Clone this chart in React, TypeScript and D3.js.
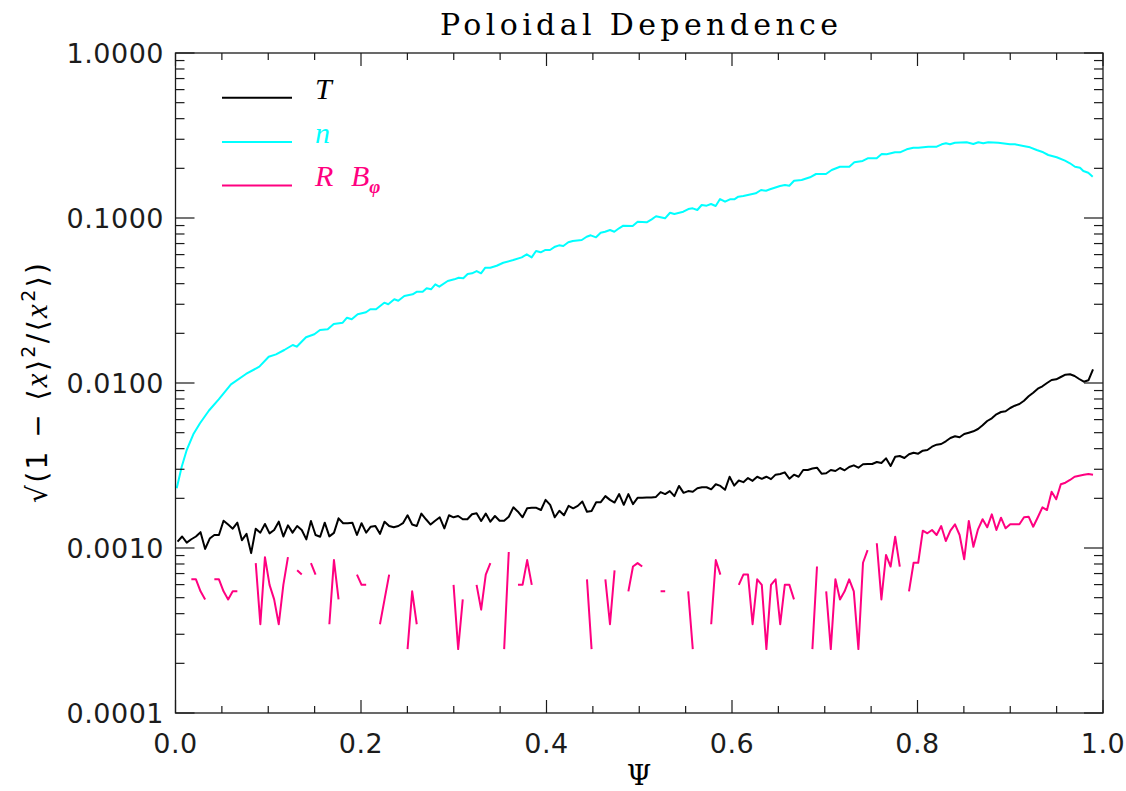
import React from 'react';
import * as d3 from 'd3';

const W = 1126;
const H = 791;
const PLOT = { left: 175.5, right: 1103, top: 53, bottom: 713 };

// Psi grid of the T and R*B_phi profiles (200 radial cells)
const PSI_START = 0.0022;
const PSI_STEP = 0.00496;
const N_POINTS = 200;

const xMajorTicks = [0, 0.2, 0.4, 0.6, 0.8, 1.0];
const xTickLabels = ['0.0', '0.2', '0.4', '0.6', '0.8', '1.0'];
const xMinorStep = 0.05;
const yMajorTicks = [1e-4, 1e-3, 1e-2, 1e-1, 1];
const yTickLabels = ['0.0001', '0.0010', '0.0100', '0.1000', '1.0000'];

const legendLabels = ['T', 'n', 'R B'];
const seriesColors = { T: '#000000', n: '#00ffff', RB: '#ff0080' };

// density curve n
const nPsi = [
  0.0013, 0.0067, 0.0121, 0.0192, 0.0264, 0.0361, 0.0466, 0.0598, 0.076, 0.0904,
  0.1005, 0.1084, 0.1173, 0.1264, 0.1307, 0.1407, 0.1497, 0.1558, 0.1641, 0.1706,
  0.1803, 0.1849, 0.19, 0.1964, 0.2054, 0.21, 0.2162, 0.2251, 0.2294, 0.2359,
  0.2402, 0.2467, 0.2557, 0.2604, 0.2665, 0.2708, 0.2755, 0.2801, 0.2844, 0.2935,
  0.3006, 0.3053, 0.3103, 0.315, 0.3197, 0.3247, 0.3294, 0.334, 0.3394, 0.3463,
  0.3534, 0.3642, 0.3733, 0.3787, 0.384, 0.3887, 0.3937, 0.3984, 0.4038, 0.4092,
  0.4135, 0.4181, 0.4235, 0.4283, 0.438, 0.4433, 0.4477, 0.4534, 0.4584, 0.4631,
  0.4685, 0.4731, 0.4782, 0.4828, 0.4929, 0.4983, 0.508, 0.5134, 0.5181, 0.5278,
  0.5332, 0.5378, 0.5475, 0.5529, 0.5576, 0.5626, 0.5673, 0.5727, 0.5774, 0.5824,
  0.5871, 0.5925, 0.5978, 0.6025, 0.6068, 0.6122, 0.6256, 0.6313, 0.6367, 0.641,
  0.6518, 0.6571, 0.6618, 0.6669, 0.6751, 0.6841, 0.6906, 0.7013, 0.7075, 0.7164,
  0.7265, 0.7319, 0.7409, 0.7463, 0.756, 0.7614, 0.7668, 0.7757, 0.7811, 0.7884,
  0.7955, 0.8009, 0.8116, 0.8207, 0.8261, 0.8307, 0.835, 0.8404, 0.853, 0.8602,
  0.8656, 0.8709, 0.8763, 0.8871, 0.8997, 0.9051, 0.9141, 0.9213, 0.9285, 0.9356,
  0.941, 0.9501, 0.959, 0.9644, 0.9698, 0.9752, 0.9788, 0.9841, 0.9889,
];
const nValues = [
  0.0023, 0.00311, 0.003926, 0.004888, 0.005699, 0.006813, 0.007962, 0.00982, 0.011339, 0.01256,
  0.01443, 0.01492, 0.015849, 0.016993, 0.016596, 0.018923, 0.019734, 0.020953, 0.021161, 0.022782,
  0.0232, 0.024871, 0.024322, 0.026089, 0.026827, 0.027971, 0.027971, 0.030671, 0.029994, 0.032163,
  0.03154, 0.03368, 0.034487, 0.035756, 0.035756, 0.037498, 0.036981, 0.039634, 0.038337, 0.0415,
  0.042496, 0.043456, 0.043093, 0.045753, 0.0462, 0.047711, 0.0462, 0.04996, 0.04996, 0.05137,
  0.05357, 0.05563, 0.05776, 0.060256, 0.05776, 0.063096, 0.06196, 0.06397, 0.06397, 0.06699,
  0.0683, 0.06764, 0.071229, 0.072537, 0.07356, 0.07702, 0.07854, 0.07637, 0.08143, 0.0826,
  0.08457, 0.0826, 0.08661, 0.08981, 0.08943, 0.09497, 0.09418, 0.0982, 0.1024, 0.09959,
  0.10765, 0.1057, 0.10917, 0.11335, 0.11446, 0.11178, 0.11993, 0.11875, 0.1216, 0.11825,
  0.13035, 0.12556, 0.1298, 0.1298, 0.13462, 0.13593, 0.14114, 0.1478, 0.14637, 0.14924,
  0.15628, 0.15849, 0.15696, 0.1683, 0.16994, 0.17647, 0.18479, 0.18479, 0.1954, 0.2046,
  0.2046, 0.2176, 0.2216, 0.23, 0.23, 0.2442, 0.2432, 0.2501, 0.2501, 0.2608,
  0.2667, 0.2667, 0.2704, 0.2704, 0.2797, 0.2836, 0.2797, 0.286, 0.2876, 0.2809,
  0.2876, 0.2836, 0.2876, 0.286, 0.2797, 0.2797, 0.2731, 0.2682, 0.2583, 0.2501,
  0.2409, 0.2333, 0.2225, 0.2146, 0.2046, 0.2018, 0.1927, 0.1881, 0.178,
];

// temperature T on the Psi grid
const tValues = [
  0.001092, 0.001174, 0.001078, 0.00113, 0.001174, 0.001247, 0.000987, 0.001141, 0.001199, 0.001199,
  0.001464, 0.001387, 0.00131, 0.001424, 0.001115, 0.001218, 0.000931, 0.00131, 0.001239, 0.001398,
  0.001227, 0.001286, 0.001444, 0.001174, 0.001372, 0.001239, 0.001359, 0.001286, 0.001128, 0.001458,
  0.001199, 0.001171, 0.001424, 0.001176, 0.001235, 0.001513, 0.001413, 0.001413, 0.001424, 0.001199,
  0.001413, 0.001239, 0.001346, 0.001359, 0.001218, 0.001444, 0.001359, 0.001335, 0.001359, 0.001413,
  0.001579, 0.001387, 0.001359, 0.001616, 0.001493, 0.001387, 0.001464, 0.001535, 0.001315, 0.001579,
  0.001535, 0.001563, 0.001493, 0.001493, 0.001601, 0.001626, 0.001458, 0.001616, 0.001444, 0.001563,
  0.001464, 0.001464, 0.001548, 0.001764, 0.001659, 0.001535, 0.00174, 0.001752, 0.001752, 0.001699,
  0.001957, 0.001827, 0.001535, 0.001682, 0.001579, 0.0018, 0.00174, 0.0018, 0.001912, 0.001659,
  0.001675, 0.001895, 0.001895, 0.002063, 0.001957, 0.001885, 0.002122, 0.001827, 0.002122, 0.001845,
  0.002014, 0.002014, 0.002023, 0.002023, 0.00204, 0.002181, 0.002122, 0.002212, 0.002063, 0.002378,
  0.002159, 0.002212, 0.002194, 0.002301, 0.002334, 0.002334, 0.002268, 0.002433, 0.002378, 0.002253,
  0.002704, 0.002388, 0.002564, 0.002506, 0.002654, 0.002552, 0.002704, 0.002627, 0.002704, 0.002615,
  0.002783, 0.002809, 0.002873, 0.002627, 0.002783, 0.002704, 0.002972, 0.002972, 0.003032, 0.003067,
  0.002821, 0.002836, 0.00297, 0.002929, 0.003054, 0.002958, 0.003097, 0.00317, 0.003067, 0.003216,
  0.003229, 0.003229, 0.00332, 0.003274, 0.003495, 0.003141, 0.003574, 0.00361, 0.00351, 0.003697,
  0.003781, 0.003728, 0.003888, 0.003926, 0.004111, 0.004228, 0.004269, 0.004433, 0.004642, 0.004753,
  0.004687, 0.004908, 0.004998, 0.005097, 0.005263, 0.005541, 0.005884, 0.00611, 0.00646, 0.00667,
  0.006746, 0.007054, 0.007284, 0.007458, 0.00781, 0.008305, 0.008732, 0.009237, 0.00955, 0.01,
  0.010428, 0.01053, 0.010875, 0.011228, 0.01129, 0.011025, 0.010573, 0.010183, 0.010384, 0.012106,
];

// R*B_phi on the Psi grid (null = zero / not positive, not drawn on log axis)
const rbValues = [
  null, null, null, 0.000646, 0.000646, 0.000546, 0.000488, null, 0.000646, 0.000646,
  0.000546, 0.000488, 0.000546, 0.000546, null, null, null, 0.00081, 0.000345, 0.00088,
  0.000598, 0.000488, 0.000345, 0.000598, 0.00088, null, 0.000732, 0.00069, null, 0.00081,
  0.00069, null, null, 0.000345, 0.000845, 0.000488, null, null, null, 0.00069,
  0.000598, 0.000598, null, null, 0.000345, 0.000488, 0.00069, null, null, null,
  0.000244, 0.000546, 0.000345, null, null, null, null, null, null, null,
  0.000598, 0.000244, 0.000488, null, null, 0.000598, 0.000423, 0.00069, 0.00081, null,
  null, 0.000244, 0.000945, null, 0.000598, 0.000598, 0.000845, 0.000598, null, null,
  null, null, null, null, null, null, null, null, null, 0.000646,
  0.000244, null, null, 0.000646, 0.000345, 0.000732, null, null, 0.000546, 0.000772,
  0.00081, 0.000772, null, null, null, 0.000546, 0.000546, null, null, null,
  null, 0.000546, 0.000244, null, null, null, 0.000345, 0.000845, 0.00069, null,
  null, null, 0.000598, 0.00069, 0.00069, 0.000345, 0.000646, 0.000598, 0.000244, 0.000598,
  0.000646, 0.000345, 0.000598, 0.000598, 0.000488, null, null, null, 0.000244, 0.000772,
  null, 0.000546, 0.000244, 0.000646, 0.000488, 0.000546, 0.000646, 0.000546, 0.000244, 0.000814,
  0.000972, null, 0.001068, 0.000488, 0.000907, 0.000772, 0.001171, 0.000772, null, 0.000546,
  0.000814, 0.000814, 0.001273, 0.001228, 0.001286, 0.001199, 0.001359, 0.001103, 0.001273, 0.001392,
  0.001199, 0.000854, 0.001458, 0.001018, 0.001298, 0.001493, 0.001335, 0.0016, 0.001286, 0.001527,
  0.001316, 0.001392, 0.001392, 0.001392, 0.001535, 0.001548, 0.001346, 0.001535, 0.001764, 0.001699,
  0.002194, 0.001973, 0.002433, 0.002488, 0.002584, 0.002704, 0.002743, 0.00278, 0.002809, 0.00278,
];

type Pt = { x: number; v: number | null };

export default function App() {
  const x = d3.scaleLinear().domain([0, 1]).range([PLOT.left, PLOT.right]);
  const y = d3.scaleLog().domain([1e-4, 1]).range([PLOT.bottom, PLOT.top]);

  const psi = d3.range(N_POINTS).map((i) => PSI_START + PSI_STEP * i);
  const tData: Pt[] = psi.map((p, i) => ({ x: p, v: tValues[i] }));
  const rbData: Pt[] = psi.map((p, i) => ({ x: p, v: rbValues[i] }));
  const nData: Pt[] = nPsi.map((p, i) => ({ x: p, v: nValues[i] }));

  const line = d3
    .line<Pt>()
    .defined((d) => d.v != null && d.v > 0)
    .x((d) => x(d.x))
    .y((d) => y(d.v as number));

  const xMinor = d3.range(0, 1 + 1e-9, xMinorStep).filter(
    (t) => !xMajorTicks.some((m) => Math.abs(m - t) < 1e-9)
  );
  const yMinor: number[] = [];
  for (let k = -4; k < 0; k++) for (let m = 2; m <= 9; m++) yMinor.push(m * Math.pow(10, k));

  const axisColor = '#1a1a1a';
  const sans = "'DejaVu Sans', 'Liberation Sans', sans-serif";
  const serif = "'Liberation Serif', 'DejaVu Serif', serif";
  const titleSerif = "'DejaVu Serif', 'Liberation Serif', serif";

  const legendY = [97.7, 142, 185.5];
  const legendColors = [seriesColors.T, seriesColors.n, seriesColors.RB];

  return (
    <svg
      width={W}
      height={H}
      viewBox={`0 0 ${W} ${H}`}
      style={{ position: 'absolute', left: 0, top: 0, display: 'block', background: '#fff' }}
    >
      <rect x={0} y={0} width={W} height={H} fill="#fff" />
      <defs>
        <clipPath id="plotclip">
          <rect x={PLOT.left} y={PLOT.top} width={PLOT.right - PLOT.left} height={PLOT.bottom - PLOT.top} />
        </clipPath>
      </defs>

      {/* title */}
      <text
        x={639}
        y={34.5}
        textAnchor="middle"
        fontFamily={titleSerif}
        fontSize={30}
        textLength={398}
        lengthAdjust="spacing"
        fill="#000"
      >
        Poloidal Dependence
      </text>

      {/* data */}
      <g clipPath="url(#plotclip)" fill="none" strokeLinejoin="round">
        <path d={line(nData) || ''} stroke={seriesColors.n} strokeWidth={2} />
        <path d={line(tData) || ''} stroke={seriesColors.T} strokeWidth={2} />
        <path d={line(rbData) || ''} stroke={seriesColors.RB} strokeWidth={2} />
      </g>

      {/* frame */}
      <rect
        x={PLOT.left}
        y={PLOT.top}
        width={PLOT.right - PLOT.left}
        height={PLOT.bottom - PLOT.top}
        fill="none"
        stroke={axisColor}
        strokeWidth={1.3}
      />

      {/* ticks on all four sides */}
      <g stroke={axisColor} strokeWidth={1.2}>
        {xMajorTicks.map((t) => (
          <g key={'xm' + t}>
            <line x1={x(t)} x2={x(t)} y1={PLOT.bottom} y2={PLOT.bottom - 13} />
            <line x1={x(t)} x2={x(t)} y1={PLOT.top} y2={PLOT.top + 13} />
          </g>
        ))}
        {xMinor.map((t) => (
          <g key={'xn' + t}>
            <line x1={x(t)} x2={x(t)} y1={PLOT.bottom} y2={PLOT.bottom - 7} />
            <line x1={x(t)} x2={x(t)} y1={PLOT.top} y2={PLOT.top + 7} />
          </g>
        ))}
        {yMajorTicks.map((t) => (
          <g key={'ym' + t}>
            <line x1={PLOT.left} x2={PLOT.left + 19} y1={y(t)} y2={y(t)} />
            <line x1={PLOT.right} x2={PLOT.right - 19} y1={y(t)} y2={y(t)} />
          </g>
        ))}
        {yMinor.map((t) => (
          <g key={'yn' + t}>
            <line x1={PLOT.left} x2={PLOT.left + 9} y1={y(t)} y2={y(t)} />
            <line x1={PLOT.right} x2={PLOT.right - 9} y1={y(t)} y2={y(t)} />
          </g>
        ))}
      </g>

      {/* tick labels */}
      <g fontFamily={sans} fontSize={27} fill="#1c1c1c" letterSpacing={0.5}>
        {xMajorTicks.map((t, i) => (
          <text key={'xl' + t} x={x(t)} y={753} textAnchor="middle">
            {xTickLabels[i]}
          </text>
        ))}
        {yMajorTicks.map((t, i) => (
          <text key={'yl' + t} x={164} y={y(t) + 10} textAnchor="end">
            {yTickLabels[i]}
          </text>
        ))}
      </g>

      {/* axis titles */}
      <text x={639} y={785} textAnchor="middle" fontFamily={titleSerif} fontSize={28} fill="#000">
        Ψ
      </text>
      <text
        transform={`translate(47,383) rotate(-90)`}
        textAnchor="middle"
        fontFamily={sans}
        fontSize={28}
        fill="#000"
        textLength={240}
        lengthAdjust="spacing"
      >
        <tspan>√(1 − ⟨</tspan>
        <tspan fontFamily={serif} fontStyle="italic" fontSize={31}>x</tspan>
        <tspan>⟩</tspan>
        <tspan dy={-12} fontSize={19}>2</tspan>
        <tspan dy={12}>/⟨</tspan>
        <tspan fontFamily={serif} fontStyle="italic" fontSize={31}>x</tspan>
        <tspan dy={-12} fontSize={19}>2</tspan>
        <tspan dy={12}>⟩)</tspan>
      </text>

      {/* legend */}
      {legendY.map((ly, i) => (
        <line key={'lg' + i} x1={222} x2={292} y1={ly} y2={ly} stroke={legendColors[i]} strokeWidth={2} />
      ))}
      <text x={315} y={99} fontFamily={serif} fontStyle="italic" fontSize={30} fill={seriesColors.T}>
        {legendLabels[0]}
      </text>
      <text x={315} y={143} fontFamily={serif} fontStyle="italic" fontSize={30} fill={seriesColors.n}>
        {legendLabels[1]}
      </text>
      <text x={315} y={186} fontFamily={serif} fontStyle="italic" fontSize={30} fill={seriesColors.RB}>
        <tspan>R</tspan>
        <tspan x={351}>B</tspan>
        <tspan dy={7} fontSize={19} fontWeight="bold">φ</tspan>
      </text>
    </svg>
  );
}
